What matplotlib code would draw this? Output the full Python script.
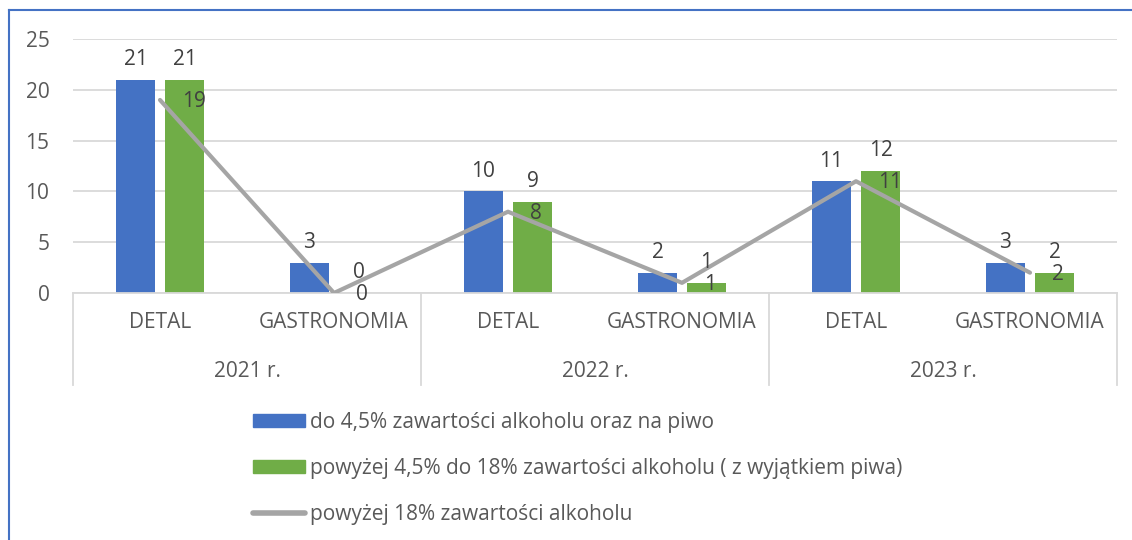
import matplotlib
matplotlib.use("Agg")
import matplotlib.pyplot as plt
from matplotlib.patches import Patch
from matplotlib.lines import Line2D
import matplotlib.transforms as mtransforms
import numpy as np

plt.rcParams['font.family'] = ['Open Sans', 'DejaVu Sans']

categories = ['DETAL', 'GASTRONOMIA', 'DETAL', 'GASTRONOMIA', 'DETAL', 'GASTRONOMIA']
years = ['2021 r.', '2022 r.', '2023 r.']
low = [21, 3, 10, 2, 11, 3]
mid = [21, 0, 9, 1, 12, 2]
high = [19, 0, 8, 1, 11, 2]
labels = ['do 4,5% zawartości alkoholu oraz na piwo',
          'powyżej 4,5% do 18% zawartości alkoholu ( z wyjątkiem piwa)',
          'powyżej 18% zawartości alkoholu']

blue = '#4472C4'
green = '#70AD47'
gray = '#A5A5A5'
txt = '#595959'
grid = '#D9D9D9'
fs = 15

fig = plt.figure(figsize=(11.32, 5.4), dpi=100)
ax = fig.add_axes([73/1132, (540-293)/540, (1117-73)/1132, (293-39)/540])

x = np.arange(len(categories))
w = 0.224
off = 0.141
ax.bar(x - off, low, w, color=blue, zorder=2)
ax.bar(x + off, mid, w, color=green, zorder=2)
ax.plot(x, high, color=gray, lw=3, zorder=3, solid_capstyle='round')

for xi, v in zip(x, low):
    ax.annotate(str(v), (xi - off, v), xytext=(0, 7), textcoords='offset points',
                ha='center', va='bottom', fontsize=fs, color='#404040')
for xi, v in zip(x, mid):
    ax.annotate(str(v), (xi + off, v), xytext=(0, 7), textcoords='offset points',
                ha='center', va='bottom', fontsize=fs, color='#404040')
for xi, v in zip(x, high):
    ax.annotate(str(v), (xi, v), xytext=(16, -1), textcoords='offset points',
                ha='left', va='center', fontsize=fs, color='#404040')

ax.set_xlim(-0.5, len(categories) - 0.5)
ax.set_ylim(0, 25)
ax.set_yticks([0, 5, 10, 15, 20, 25])
ax.yaxis.grid(True, color=grid, lw=1.3, zorder=0)
ax.set_axisbelow(True)
for s in ['top', 'right', 'left']:
    ax.spines[s].set_visible(False)
ax.spines['bottom'].set_color(grid)
ax.spines['bottom'].set_linewidth(1.3)
ax.tick_params(axis='y', length=0, pad=17, labelsize=fs, labelcolor=txt)
ax.tick_params(axis='x', length=0, labelbottom=False)

trans = mtransforms.blended_transform_factory(ax.transData, ax.transAxes)
for xi, c in zip(x, categories):
    ax.text(xi, -0.118, c, transform=trans, ha='center', va='center',
            fontsize=fs, color=txt)
for i, yr in enumerate(years):
    ax.text(2 * i + 0.5, -0.31, yr, transform=trans, ha='center', va='center',
            fontsize=fs, color=txt)
for sx in [-0.5, 1.5, 3.5, 5.5]:
    ax.plot([sx, sx], [0, -0.362], transform=trans, color=grid, lw=1.3, clip_on=False)

handles = [Patch(color=blue), Patch(color=green),
           Line2D([0], [0], color=gray, lw=4, solid_capstyle='round')]
fig.legend(handles, labels, loc='upper left', bbox_to_anchor=(234/1132, 1 - 393/540),
           frameon=False, fontsize=fs, labelcolor=txt, handlelength=2.5,
           handleheight=0.63, handletextpad=0.24, labelspacing=1.2)

# border of the chart box
fig.add_artist(Line2D([9/1132, 1], [1 - 10/540, 1 - 10/540], color='#4472C4', lw=1.5))
fig.add_artist(Line2D([9/1132, 9/1132], [0, 1 - 10/540], color='#4472C4', lw=1.5))

fig.savefig('out.png', dpi=100)
